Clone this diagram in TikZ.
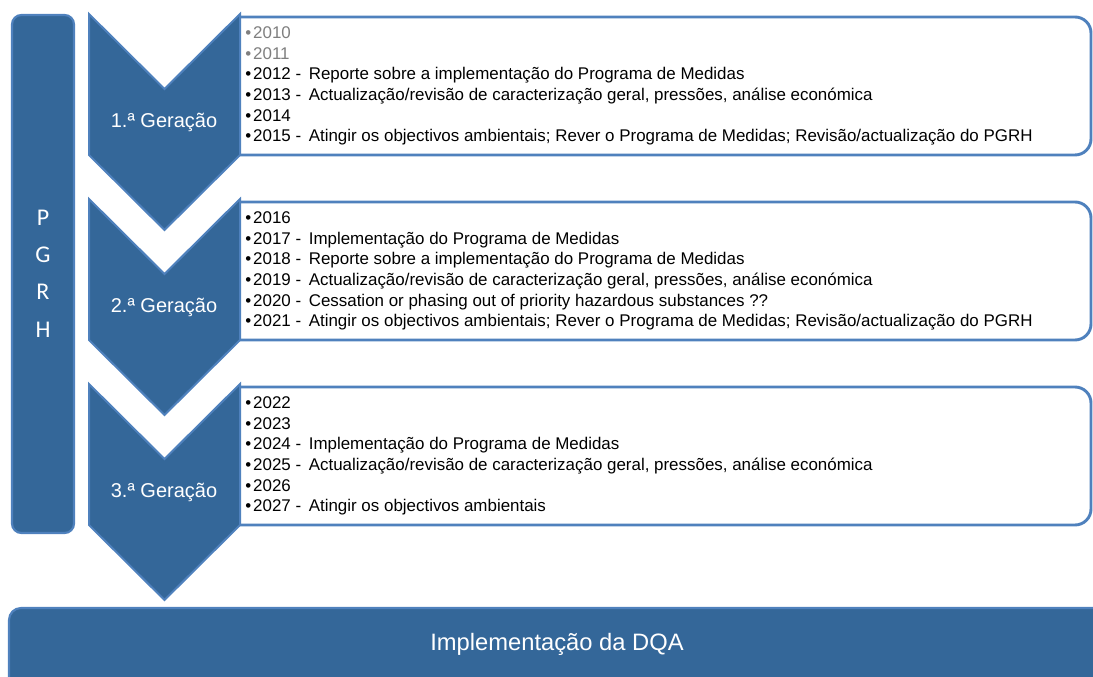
\documentclass[tikz,border=0pt]{standalone}
\usepackage{fontspec}
\setmainfont{Liberation Sans}
\newfontfamily\carlito{Carlito}
\definecolor{dqafill}{RGB}{52,103,153}
\definecolor{dqaline}{RGB}{79,129,189}
\definecolor{dqagrey}{RGB}{127,127,127}
\tikzset{
  barshape/.style={fill=dqafill, draw=dqaline, line width=1.6pt, rounded corners=7pt},
  chevshape/.style={fill=dqafill, draw=dqaline, line width=1.5pt, line join=miter},
  listbox/.style={fill=white, draw=dqaline, line width=2.2pt},
  chevlabel/.style={text=white, font=\fontsize{15}{18}\selectfont, inner sep=0pt},
  listtext/.style={anchor=north west, align=left, inner sep=0pt, font=\fontsize{12.7}{15.45}\selectfont},
  pgrhletter/.style={text=white, font=\carlito\fontsize{18}{18}\selectfont, inner sep=0pt},
}
\newcommand{\bul}{•\kern1.5pt}
\newcommand{\yr}[2]{\bul#1 -\hspace{0.45em}#2}
\begin{document}
\begin{tikzpicture}[x=0.75pt, y=-0.75pt]
\useasboundingbox (0,0) rectangle (1093,677);
\clip (0,0) rectangle (1093,677);
% left PGRH bar
\draw[barshape] (12,15) rectangle (74,533);
\node[pgrhletter] (p) at (43,218) {P};
\node[pgrhletter] (g) at (43,255) {G};
\node[pgrhletter] (r) at (43,292) {R};
\node[pgrhletter] (h) at (43,330) {H};
% list boxes (square left corners, rounded right corners)
\foreach \k in {0,1,2} {
  \pgfmathsetmacro{\t}{17+185*\k}
  \pgfmathsetmacro{\b}{155+185*\k}
  \draw[listbox] (239,\t) -- (1075,\t) arc[start angle=-90, end angle=0, radius=16] -- (1091,\b-16) arc[start angle=0, end angle=90, radius=16] -- (239,\b) -- cycle;
}
% chevrons
\foreach \k in {0,1,2} {
  \pgfmathsetmacro{\o}{185*\k}
  \draw[chevshape] (89,14+\o) -- (164.5,89+\o) -- (240,14+\o) -- (240,155+\o) -- (164.5,230+\o) -- (89,155+\o) -- cycle;
}
\node[chevlabel] (gen1) at (164,122) {1.ª Geração};
\node[chevlabel] (gen2) at (164,307) {2.ª Geração};
\node[chevlabel] (gen3) at (164,492) {3.ª Geração};
% list texts
\node[listtext] (list1) at (245,24) {\strut\textcolor{dqagrey}{\bul2010}\\
\textcolor{dqagrey}{\bul2011}\\
\yr{2012}{Reporte sobre a implementação do Programa de Medidas}\\
\yr{2013}{Actualização/revisão de caracterização geral, pressões, análise económica}\\
\bul2014\\
\yr{2015}{Atingir os objectivos ambientais; Rever o Programa de Medidas; Revisão/actualização do PGRH}};
\node[listtext] (list2) at (245,209) {\strut\bul2016\\
\yr{2017}{Implementação do Programa de Medidas}\\
\yr{2018}{Reporte sobre a implementação do Programa de Medidas}\\
\yr{2019}{Actualização/revisão de caracterização geral, pressões, análise económica}\\
\yr{2020}{Cessation or phasing out of priority hazardous substances ??}\\
\yr{2021}{Atingir os objectivos ambientais; Rever o Programa de Medidas; Revisão/actualização do PGRH}};
\node[listtext] (list3) at (245,394) {\strut\bul2022\\
\bul2023\\
\yr{2024}{Implementação do Programa de Medidas}\\
\yr{2025}{Actualização/revisão de caracterização geral, pressões, análise económica}\\
\bul2026\\
\yr{2027}{Atingir os objectivos ambientais}};
% bottom bar
\draw[barshape, rounded corners=9pt] (9,608) rectangle (1110,720);
\node[text=white, font=\fontsize{17.8}{22}\selectfont, inner sep=0pt] (dqa) at (557,644) {Implementação da DQA};
\end{tikzpicture}
\end{document}
